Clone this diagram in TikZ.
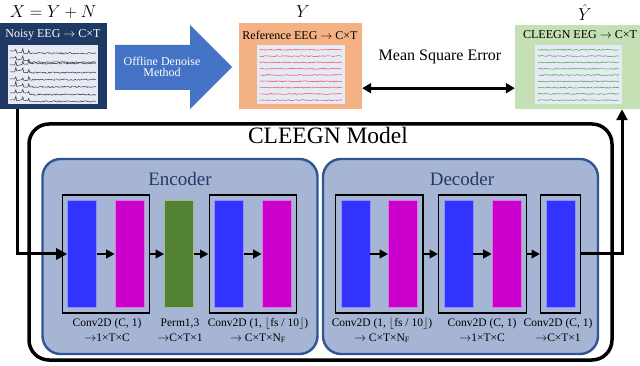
\documentclass[tikz,border=0pt]{standalone}
\usepackage{fontspec}
\setmainfont{Liberation Serif}
\usetikzlibrary{calc, positioning, fit, arrows.meta, decorations.pathmorphing}

\definecolor{navyBox}{RGB}{32,56,100}
\definecolor{refOrange}{RGB}{244,177,131}
\definecolor{outGreen}{RGB}{197,224,180}
\definecolor{denoiseBlue}{RGB}{68,114,196}
\definecolor{traceBg}{RGB}{230,234,245}
\definecolor{blockFill}{RGB}{166,181,212}
\definecolor{blockDraw}{RGB}{47,85,151}
\definecolor{blockText}{RGB}{40,55,100}
\definecolor{convBlue}{RGB}{51,51,255}
\definecolor{convMag}{RGB}{204,0,204}
\definecolor{permGreen}{RGB}{84,130,53}
\definecolor{noisyTrace}{RGB}{50,50,50}
\definecolor{refTrace}{RGB}{235,70,80}
\definecolor{cleanTrace}{RGB}{60,160,60}

\tikzset{
  layer/.style={minimum width=29pt, minimum height=107pt, inner sep=0pt,
    draw=#1!55!white, line width=0.6pt, fill=#1},
  frame/.style={draw, line width=1.4pt, inner sep=5pt},
  flow/.style={line width=2.6pt, -{Triangle[length=8.5pt,width=8.5pt]}},
  block/.style={draw=blockDraw, fill=blockFill, line width=2.4pt,
    rounded corners=18pt, minimum width=275pt, minimum height=195pt},
  eegbox/.style={minimum height=86pt, inner sep=0pt},
  traceimg/.style={fill=traceBg, minimum width=88pt, minimum height=59pt, inner sep=0pt},
  trace/.style={line width=0.45pt, decorate,
    decoration={random steps, segment length=1.1pt, amplitude=0.55pt}},
  lbl/.style={align=center, inner sep=0pt, font=\fontsize{11.5}{15}\selectfont},
  boxtitle/.style={inner sep=0pt, font=\fontsize{12}{14}\selectfont},
  mathlbl/.style={inner sep=0pt, font=\fontsize{17}{20}\selectfont}
}

\begin{document}
\begin{tikzpicture}[x=1pt, y=-1pt]
\useasboundingbox (0,0) rectangle (640,366);
\def\rowY{254}
\pgfmathsetseed{7}

% top row
\node[mathlbl] (xlab) at (53,12) {$X = Y + N$};
\node[mathlbl] (ylab) at (303,12) {$Y$};
\node[mathlbl] (yhatlab) at (585,12.5) {$\hat{Y}$};

\node[eegbox, fill=navyBox, minimum width=107pt] (noisy) at (53.5,66) {};
\node[boxtitle, text=white] (noisyTitle) at (53,35) {Noisy EEG $\rightarrow$ C×T};
\node[traceimg, minimum width=90pt] (noisyImg) at (53,74.5) {};
\foreach \k in {0,...,7} {
  \draw[noisyTrace, line width=0.5pt] ($(noisyImg.north west)+(2,6+\k*7)$)
    -- ++(5,0) -- ++(1,{-1-4*rnd}) -- ++(1,{3+2*rnd}) -- ++(5,-1) -- ++(1,{-1-3*rnd})
    -- ++(1,{2+3*rnd}) -- ++(4,0) -- ++(1,{-1-3*rnd}) -- ++(1,3) coordinate (n\k);
  \draw[noisyTrace, trace, decoration={amplitude=0.75pt}] (n\k) -- ++(66,0);
}

\draw[fill=denoiseBlue, draw=none] (115,45) -- (190,45) -- (190,25) -- (232,67)
  -- (190,109) -- (190,90) -- (115,90) -- cycle;
\node[align=center, text=white, inner sep=0pt, font=\fontsize{12}{12}\selectfont]
  (denoise) at (162,67) {Offline Denoise\\[-1pt]Method};

\node[eegbox, fill=refOrange, minimum width=123pt] (ref) at (300.5,66) {};
\node[boxtitle] (refTitle) at (300,35) {Reference EEG $\rightarrow$ C×T};
\node[traceimg] (refImg) at (301,74.5) {};
\foreach \k in {0,...,8}
  \draw[refTrace, trace] ($(refImg.north west)+(3,5+\k*6.3)$) -- ++(82,0);

\node[eegbox, fill=outGreen, minimum width=125pt, minimum height=84pt] (cleegn) at (577.5,67) {};
\node[boxtitle] (cleegnTitle) at (580,35) {CLEEGN EEG $\rightarrow$ C×T};
\node[traceimg, minimum width=87pt] (cleegnImg) at (578.5,74.5) {};
\foreach \k in {0,...,8}
  \draw[cleanTrace, trace] ($(cleegnImg.north west)+(3,5+\k*6.3)$) -- ++(81,0);

\node[font=\fontsize{16}{16}\selectfont, inner sep=0pt] (mse) at (440,57) {Mean Square Error};
\draw[line width=2.8pt, {Triangle[length=9pt,width=10pt]}-{Triangle[length=9pt,width=10pt]}]
  ([yshift=21pt]ref.south east) -- ([yshift=21pt]cleegn.south west);

% model
\node[draw, fill=white, line width=3.5pt, rounded corners=20pt,
  minimum width=583pt, minimum height=236pt] (model) at (320.5,242) {};
\node[inner sep=0pt, font=\fontsize{23.5}{23.5}\selectfont] (modelTitle) at (328,135) {CLEEGN Model};

\node[block] (enc) at (180,256.5) {};
\node[block] (dec) at (460.5,256.5) {};
\node[text=blockText, inner sep=0pt, font=\fontsize{19}{19}\selectfont] (encTitle) at (180,179) {Encoder};
\node[text=blockText, inner sep=0pt, font=\fontsize{19}{19}\selectfont] (decTitle) at (462,179) {Decoder};

% encoder layers
\node[layer=convBlue] (eb1) at (82,\rowY) {};
\node[layer=convMag] (em1) at (129.5,\rowY) {};
\node[layer=permGreen] (eg1) at (179,\rowY) {};
\node[layer=convBlue] (eb2) at (229,\rowY) {};
\node[layer=convMag] (em2) at (276.5,\rowY) {};
\node[frame, fit=(eb1)(em1)] (ef1) {};
\node[frame, fit=(eb2)(em2)] (ef2) {};

% decoder layers
\node[layer=convBlue] (db1) at (355.5,\rowY) {};
\node[layer=convMag] (dm1) at (403,\rowY) {};
\node[layer=convBlue] (db2) at (458.5,\rowY) {};
\node[layer=convMag] (dm2) at (506.5,\rowY) {};
\node[layer=convBlue] (db3) at (560.5,\rowY) {};
\node[frame, fit=(db1)(dm1)] (df1) {};
\node[frame, fit=(db2)(dm2)] (df2) {};
\node[frame, fit=(db3)] (df3) {};

\draw[flow] (eb1) -- (em1);
\draw[flow] (ef1) -- (eg1);
\draw[flow] (eg1) -- (ef2);
\draw[flow] (eb2) -- (em2);
\draw[flow] (db1) -- (dm1);
\draw[flow] (df1) -- (df2);
\draw[flow] (db2) -- (dm2);
\draw[flow] (df2) -- (df3);

\coordinate (inTurn) at (17,\rowY);
\coordinate (outTurn) at (622,\rowY);
\draw[line width=3pt, -{Triangle[length=11pt,width=11pt]}]
  (noisy.south -| inTurn) -- (inTurn) -- (eb1.west);
\draw[line width=3pt, -{Triangle[length=11pt,width=11pt]}]
  (df3.east) -- (outTurn) -- (cleegn.south -| outTurn);

% layer labels
\node[lbl] (lblEnc1) at (107,330) {Conv2D (C, 1)\\$\rightarrow$1×T×C};
\node[lbl] (lblPerm) at (180,330) {Perm1,3\\$\rightarrow$C×T×1};
\node[lbl] (lblEnc2) at (258,330) {Conv2D (1, $\lfloor$fs / 10$\rfloor$)\\$\rightarrow$ C×T×N$_\mathrm{F}$};
\node[lbl] (lblDec1) at (382,330) {Conv2D (1, $\lfloor$fs / 10$\rfloor$)\\$\rightarrow$ C×T×N$_\mathrm{F}$};
\node[lbl] (lblDec2) at (482,330) {Conv2D (C, 1)\\$\rightarrow$1×T×C};
\node[lbl] (lblDec3) at (558,330) {Conv2D (C, 1)\\$\rightarrow$C×T×1};
\end{tikzpicture}
\end{document}
